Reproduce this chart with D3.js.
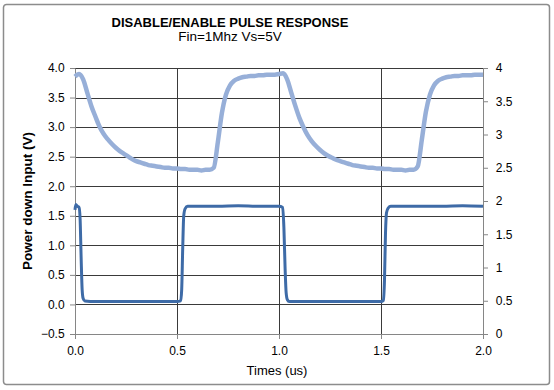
<!DOCTYPE html>
<html>
<head>
<meta charset="utf-8">
<script src="https://cdn.jsdelivr.net/npm/d3@7"></script>
<style>
  body { margin: 0; background: #fff; }
  svg text { font-family: Arial, "Liberation Sans", sans-serif; fill: #000; }
  .axis path, .axis line { stroke: #868686; }
  .axis text { font-size: 12px; }
  .grid line { stroke: #3a3a3a; stroke-width: 1; }
</style>
</head>
<body>
<div id="chart"></div>
<script>
// time (us) and output voltage, right axis
var outTime = [0.00, 0.02, 0.04, 0.06, 0.08, 0.10, 0.12, 0.14, 0.16, 0.18, 0.20, 0.22, 0.24, 0.26, 0.28, 0.30, 0.32, 0.34, 0.36, 0.38,
  0.40, 0.42, 0.44, 0.46, 0.48, 0.50, 0.52, 0.54, 0.56, 0.58, 0.60, 0.62, 0.64, 0.66, 0.68, 0.70, 0.72, 0.74, 0.76, 0.78,
  0.80, 0.82, 0.84, 0.86, 0.88, 0.90, 0.92, 0.94, 0.96, 0.98, 1.00, 1.02, 1.04, 1.06, 1.08, 1.10, 1.12, 1.14, 1.16, 1.18,
  1.20, 1.22, 1.24, 1.26, 1.28, 1.30, 1.32, 1.34, 1.36, 1.38, 1.40, 1.42, 1.44, 1.46, 1.48, 1.50, 1.52, 1.54, 1.56, 1.58,
  1.60, 1.62, 1.64, 1.66, 1.68, 1.70, 1.72, 1.74, 1.76, 1.78, 1.80, 1.82, 1.84, 1.86, 1.88, 1.90, 1.92, 1.94, 1.96, 1.98, 2.00];
var outVolt = [3.87, 3.91, 3.83, 3.63, 3.43, 3.27, 3.12, 3.01, 2.93, 2.86, 2.80, 2.75, 2.71, 2.67, 2.63, 2.60, 2.58, 2.56, 2.54, 2.53,
  2.52, 2.51, 2.50, 2.50, 2.49, 2.49, 2.48, 2.48, 2.47, 2.47, 2.47, 2.46, 2.47, 2.47, 2.50, 2.88, 3.32, 3.60, 3.74, 3.81,
  3.84, 3.86, 3.87, 3.88, 3.88, 3.89, 3.89, 3.90, 3.90, 3.90, 3.91, 3.92, 3.83, 3.63, 3.43, 3.25, 3.11, 2.99, 2.90, 2.83,
  2.77, 2.72, 2.68, 2.65, 2.62, 2.60, 2.58, 2.56, 2.54, 2.53, 2.52, 2.51, 2.50, 2.50, 2.49, 2.49, 2.48, 2.48, 2.47, 2.47,
  2.47, 2.46, 2.47, 2.47, 2.52, 2.92, 3.34, 3.60, 3.74, 3.81, 3.84, 3.86, 3.87, 3.88, 3.88, 3.89, 3.89, 3.89, 3.90, 3.90, 3.90];

// time (us) and power down input voltage, left axis
var inTime = [0.000, 0.004, 0.012, 0.020, 0.025, 0.030, 0.035, 0.040, 0.048, 0.10, 0.20, 0.30, 0.40, 0.50, 0.518,
  0.523, 0.528, 0.533, 0.540, 0.552, 0.60, 0.70, 0.80, 0.90, 1.00, 1.018, 1.024, 1.030, 1.035, 1.041, 1.050,
  1.10, 1.20, 1.30, 1.40, 1.50, 1.512, 1.517, 1.522, 1.527, 1.535, 1.548, 1.60, 1.70, 1.80, 1.90, 2.00];
var inVolt = [1.60, 1.69, 1.66, 1.64, 1.45, 0.80, 0.25, 0.10, 0.06, 0.05, 0.05, 0.05, 0.05, 0.05, 0.06,
  0.25, 0.95, 1.50, 1.62, 1.66, 1.66, 1.66, 1.67, 1.66, 1.66, 1.64, 1.30, 0.60, 0.20, 0.08, 0.05,
  0.05, 0.05, 0.05, 0.05, 0.05, 0.07, 0.40, 1.20, 1.55, 1.63, 1.66, 1.66, 1.66, 1.66, 1.67, 1.66];

var xTicks = [0, 0.5, 1.0, 1.5, 2.0];
var leftTicks = [-0.5, 0, 0.5, 1.0, 1.5, 2.0, 2.5, 3.0, 3.5, 4.0];
var rightTicks = [0, 0.5, 1, 1.5, 2, 2.5, 3, 3.5, 4];

var titleText = "DISABLE/ENABLE PULSE RESPONSE";
var subtitleText = "Fin=1Mhz Vs=5V";

(function mainfigure() {

  var margin = { top: 68, right: 71, bottom: 56, left: 75 },
    width = 554 - margin.left - margin.right,
    height = 390 - margin.top - margin.bottom;

  var x = d3.scaleLinear().domain([0, 2]).range([0, width]);
  var yLeft = d3.scaleLinear().domain([-0.5, 4]).range([height, 0]);
  var yRight = d3.scaleLinear().domain([0, 4]).range([height, 0]);

  var svg = d3.select("#chart").append("svg")
    .attr("width", 554)
    .attr("height", 390);

  // outer frame
  svg.append("rect")
    .attr("x", 3.5).attr("y", 4.5)
    .attr("width", 546).attr("height", 380)
    .attr("rx", 3)
    .attr("fill", "#fff")
    .attr("stroke", "#8c8c8c")
    .attr("stroke-width", 1.5);

  var g = svg.append("g")
    .attr("transform", "translate(" + margin.left + "," + margin.top + ")");

  // horizontal grid
  g.append("g")
    .attr("class", "grid")
    .selectAll("line")
    .data(leftTicks.filter(function(d) { return d > -0.5; }))
    .enter().append("line")
    .attr("x1", 0).attr("x2", width)
    .attr("y1", function(d) { return Math.round(yLeft(d)) + 0.5; })
    .attr("y2", function(d) { return Math.round(yLeft(d)) + 0.5; });

  // vertical grid
  g.append("g")
    .attr("class", "grid")
    .selectAll("line")
    .data(xTicks.filter(function(d) { return d > 0 && d < 2; }))
    .enter().append("line")
    .attr("y1", 0).attr("y2", height)
    .attr("x1", function(d) { return Math.round(x(d)) + 0.5; })
    .attr("x2", function(d) { return Math.round(x(d)) + 0.5; });

  g.append("g")
    .attr("class", "axis")
    .attr("transform", "translate(0," + height + ")")
    .call(d3.axisBottom(x).tickValues(xTicks).tickFormat(d3.format(".1f")).tickSize(5).tickSizeOuter(0))
    .selectAll("text").attr("dy", "1.1em");

  g.append("g")
    .attr("class", "axis")
    .call(d3.axisLeft(yLeft).tickValues(leftTicks).tickFormat(d3.format(".1f")).tickSize(5).tickSizeOuter(0))
    .selectAll("text").attr("dx", "-0.2em");

  g.append("g")
    .attr("class", "axis")
    .attr("transform", "translate(" + width + ",0)")
    .call(d3.axisRight(yRight).tickValues(rightTicks).tickFormat(d3.format("")).tickSize(5).tickSizeOuter(0))
    .selectAll("text").attr("dx", "0.4em");

  var outData = outTime.map(function(t, i) { return { t: t, v: outVolt[i] }; });
  var inData = inTime.map(function(t, i) { return { t: t, v: inVolt[i] }; });

  var outLine = d3.line()
    .x(function(d) { return x(d.t); })
    .y(function(d) { return yRight(d.v); })
    .curve(d3.curveMonotoneX);

  var inLine = d3.line()
    .x(function(d) { return x(d.t); })
    .y(function(d) { return yLeft(d.v); })
    .curve(d3.curveMonotoneX);

  g.append("path")
    .datum(outData)
    .attr("fill", "none")
    .attr("stroke", "#97afd8")
    .attr("stroke-width", 4.5)
    .attr("stroke-linejoin", "round")
    .attr("d", outLine);

  g.append("path")
    .datum(inData)
    .attr("fill", "none")
    .attr("stroke", "#3e6ba7")
    .attr("stroke-width", 3)
    .attr("stroke-linejoin", "round")
    .attr("d", inLine);

  // titles
  svg.append("text")
    .text(titleText)
    .attr("x", 230).attr("y", 27)
    .attr("text-anchor", "middle")
    .style("font-weight", "bold")
    .style("font-size", "13px");

  svg.append("text")
    .text(subtitleText)
    .attr("x", 230).attr("y", 41)
    .attr("text-anchor", "middle")
    .style("font-size", "13.5px");

  svg.append("text")
    .text("Times (us)")
    .attr("x", margin.left + width / 2 - 2).attr("y", 375)
    .attr("text-anchor", "middle")
    .style("font-size", "13px");

  svg.append("text")
    .text("Power down Input (V)")
    .attr("text-anchor", "middle")
    .style("font-weight", "bold")
    .style("font-size", "13.5px")
    .attr("transform", "translate(32," + (margin.top + yLeft(1.75)) + ") rotate(-90)");

})();
</script>
</body>
</html>
